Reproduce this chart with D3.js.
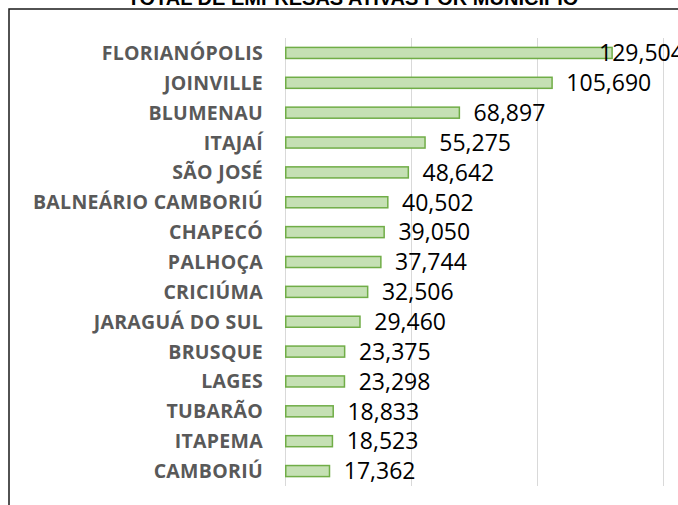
<!DOCTYPE html>
<html><head><meta charset="utf-8">
<script src="https://cdn.jsdelivr.net/npm/d3@7"></script>
<style>body{margin:0;background:#fff}svg{display:block}</style>
</head><body>
<svg id="c" width="678" height="505"></svg>
<script>
const categories = ["FLORIANÓPOLIS","JOINVILLE","BLUMENAU","ITAJAÍ","SÃO JOSÉ","BALNEÁRIO CAMBORIÚ","CHAPECÓ","PALHOÇA","CRICIÚMA","JARAGUÁ DO SUL","BRUSQUE","LAGES","TUBARÃO","ITAPEMA","CAMBORIÚ"];
const values = [129504,105690,68897,55275,48642,40502,39050,37744,32506,29460,23375,23298,18833,18523,17362];
const gridTicks = [0,50000,100000,150000];
const title = "TOTAL DE EMPRESAS ATIVAS POR MUNICÍPIO";

const svg = d3.select("#c");
const x = d3.scaleLinear().domain([0,150000]).range([285,663]);
const y = d3.scaleBand().domain(categories).range([38,486]).paddingInner(0.63).paddingOuter(0.315);

// frame
svg.append("rect").attr("x",9).attr("y",9).attr("width",700).attr("height",520)
  .attr("fill","none").attr("stroke","#1a1a1a").attr("stroke-width",1.5);

// title
svg.append("text").attr("x",353).attr("y",5).attr("text-anchor","middle")
  .attr("font-family","Liberation Sans, Arial, sans-serif")
  .attr("font-weight","bold").attr("font-size",20).attr("fill","#000").text(title);

// grid
svg.append("g").selectAll("line").data(gridTicks).join("line")
  .attr("x1",d=>x(d)+0.5).attr("x2",d=>x(d)+0.5).attr("y1",38).attr("y2",486)
  .attr("stroke","#d9d9d9").attr("stroke-width",1);

// category labels
const yAxis = d3.axisLeft(y).tickSize(0).tickPadding(0);
const ga = svg.append("g").attr("transform","translate(263,0)").call(yAxis);
ga.select(".domain").remove();
ga.selectAll("text").attr("font-family","Open Sans, Liberation Sans, sans-serif")
  .attr("font-weight","bold").attr("font-size",19.5).attr("letter-spacing","0.3px")
  .attr("fill","#595959").attr("dy","0.36em");

// bars
svg.append("g").selectAll("rect").data(values).join("rect")
  .attr("x",x(0)+0.75).attr("y",(d,i)=>y(categories[i]))
  .attr("width",d=>x(d)-x(0)).attr("height",y.bandwidth())
  .attr("fill","#c5e0b4").attr("stroke","#70ad47").attr("stroke-width",1.5);

// value labels
const fmt = d3.format(",");
svg.append("g").selectAll("text").data(values).join("text")
  .attr("x",d=>Math.min(x(d)+15, 599)).attr("y",(d,i)=>y(categories[i])+y.bandwidth()/2)
  .attr("dy","0.36em")
  .attr("font-family","Open Sans, Liberation Sans, sans-serif").attr("font-size",23).attr("fill","#000")
  .text(d=>fmt(d));
</script>
</body></html>
